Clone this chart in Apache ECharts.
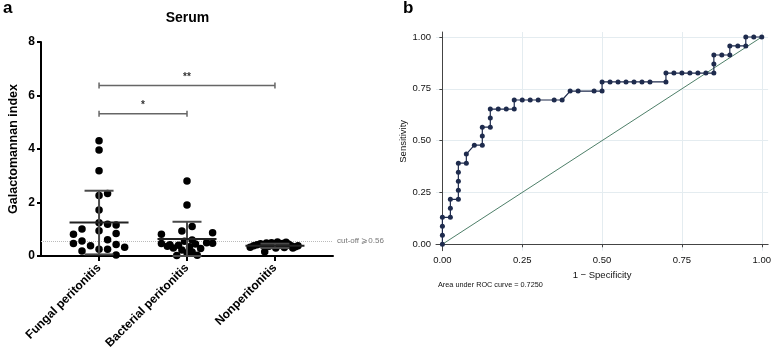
<!DOCTYPE html>
<html><head><meta charset="utf-8">
<script src="https://cdn.jsdelivr.net/npm/echarts@6/dist/echarts.min.js"></script>
<style>html,body{margin:0;padding:0;background:#fff}#c{width:774px;height:352px}</style>
</head><body><div id="c"></div>
<script>
// ---------- Panel a: serum galactomannan index ----------
const categories = ['Fungal peritonitis', 'Bacterial peritonitis', 'Nonperitonitis'];
const gmTicks = [0, 2, 4, 6, 8];
const fungalValues = [4.31, 3.96, 3.19, 2.26, 2.34, 1.72, 1.24, 1.19, 1.16, 1.01, 0.81, 0.94, 0.84, 0.61, 0.56, 0.47, 0.38, 0.43, 0.33, 0.25, 0.25, 0.19, 0.04];
const fungalJitter = [0, 0, 0, 0, 1, 0, 0, 1, 2, -2, -3, 0, 2, 1, -2, -3, -1, 2, 3, 0, 1, -2, 2];
const bacterialValues = [2.80, 1.91, 1.10, 0.93, 0.81, 0.87, 0.47, 0.36, 0.30, 0.40, 0.55, 0.35, 0.45, 0.28, 0.50, 0.48, 0.60, 0.22, 0.12, 0.02, 0.03, 0.15, 0.42];
const bacterialJitter = [0, 0, 0.6, -0.6, -3, 3, -3, -2.3, -1.6, -1.0, -0.3, 0.3, 1.0, 1.6, 2.3, 3.0, 0.6, -0.6, 0, -1.2, 1.2, 0.6, -2.0];
const nonperitonitisValues = [0.33, 0.38, 0.42, 0.46, 0.40, 0.49, 0.36, 0.50, 0.16, 0.44, 0.30, 0.52, 0.41, 0.47, 0.32, 0.51, 0.44, 0.38, 0.30, 0.35, 0.38];
const nonperitonitisJitter = [-2.9, -2.5, -2.1, -1.7, -1.3, -1.0, -0.7, -0.4, -1.2, -0.1, 0.1, 0.3, 0.6, 0.9, 1.1, 1.3, 1.6, 1.9, 2.1, 2.4, 2.7];
const groupMeans = [1.25, 0.64, 0.38];
const groupSdLow = [0.06, 0.0, 0.30];
const groupSdHigh = [2.44, 1.28, 0.46];
const cutoffValue = 0.56;
const cutoffLabel = 'cut-off \u2A7E0.56';
const bracketFrom = [1, 1];
const bracketTo = [3, 2];
const bracketLevel = [6.37, 5.32];
const bracketLabels = ['**', '*'];

// ---------- Panel b: ROC curve ----------
const rocFpr = [0, 0, 0, 0, 0.025, 0.025, 0.025, 0.05, 0.05, 0.05, 0.05, 0.05, 0.075, 0.075, 0.1, 0.125, 0.125, 0.125, 0.15, 0.15, 0.15, 0.175, 0.2, 0.225, 0.225, 0.25, 0.275, 0.3, 0.35, 0.375, 0.4, 0.425, 0.475, 0.5, 0.5, 0.525, 0.55, 0.575, 0.6, 0.625, 0.65, 0.7, 0.7, 0.725, 0.75, 0.775, 0.8, 0.825, 0.85, 0.85, 0.85, 0.875, 0.9, 0.9, 0.925, 0.95, 0.95, 0.975, 1];
const rocTpr = [0, 0.043, 0.087, 0.130, 0.130, 0.174, 0.217, 0.217, 0.261, 0.304, 0.348, 0.391, 0.391, 0.435, 0.478, 0.478, 0.522, 0.565, 0.565, 0.609, 0.652, 0.652, 0.652, 0.652, 0.696, 0.696, 0.696, 0.696, 0.696, 0.696, 0.739, 0.739, 0.739, 0.739, 0.783, 0.783, 0.783, 0.783, 0.783, 0.783, 0.783, 0.783, 0.826, 0.826, 0.826, 0.826, 0.826, 0.826, 0.826, 0.870, 0.913, 0.913, 0.913, 0.957, 0.957, 0.957, 1, 1, 1];
const rocTicks = [0, 0.25, 0.5, 0.75, 1];
const diagonal = [[0, 0], [1, 1]];
const aucText = 'Area under ROC curve = 0.7250';

// ---------- style constants ----------
const JITTER_STEP = 0.097;
const FONT = '"Liberation Sans", Arial, Helvetica, sans-serif';

function groupData(values, jitter, g) {
  return values.map((v, i) => [g + jitter[i] * JITTER_STEP, v]);
}

const chart = echarts.init(document.getElementById('c'), null, {renderer: 'canvas'});

const meanData = groupMeans.map((m, i) => [i + 1, m, groupSdLow[i], groupSdHigh[i]]);
const bracketData = bracketFrom.map((f, i) => [f, bracketTo[i], bracketLevel[i]]);
const rocData = rocFpr.map((x, i) => [x, rocTpr[i]]);
const dotStyle = {color: '#000', opacity: 1, borderWidth: 0};

const option = {
  backgroundColor: '#fff',
  animation: false,
  textStyle: {fontFamily: FONT},
  graphic: [
    {type: 'text', left: 3, top: 0, style: {text: 'a', font: 'bold 17px ' + FONT, fill: '#000'}},
    {type: 'text', left: 403, top: 0, style: {text: 'b', font: 'bold 17px ' + FONT, fill: '#000'}},
    {type: 'text', x: 187.5, y: 18, style: {text: 'Serum', font: 'bold 14px ' + FONT, fill: '#000', textAlign: 'center', textVerticalAlign: 'middle'}},
    {type: 'text', x: 438, y: 284.5, style: {text: aucText, font: '7.3px ' + FONT, fill: '#111', textAlign: 'left', textVerticalAlign: 'middle'}}
  ],
  grid: [
    {left: 41, top: 42, width: 292, height: 214},
    {left: 436, top: 32, width: 334, height: 218.7}
  ],
  xAxis: [
    {
      gridIndex: 0, type: 'value', min: 0.34, max: 3.66,
      axisLine: {show: true, lineStyle: {color: '#000', width: 2}},
      axisTick: {show: true, customValues: [1, 2, 3], length: 5, lineStyle: {color: '#000', width: 2}},
      axisLabel: {show: true, customValues: [1, 2, 3], rotate: 45, margin: 10,
        formatter: v => categories[Math.round(v) - 1],
        fontSize: 12, fontWeight: 'bold', color: '#000', fontFamily: FONT},
      splitLine: {show: false}
    },
    {
      gridIndex: 1, type: 'value', min: -0.02, max: 1.02,
      name: '1 \u2212 Specificity', nameLocation: 'middle', nameGap: 16.5,
      nameTextStyle: {fontSize: 9.5, color: '#111', fontFamily: FONT},
      axisLine: {show: true, lineStyle: {color: '#444', width: 1}},
      axisTick: {show: true, customValues: rocTicks, length: 3, lineStyle: {color: '#444'}},
      axisLabel: {customValues: rocTicks, formatter: v => v.toFixed(2), fontSize: 9.5, color: '#111', margin: 5, fontFamily: FONT},
      splitLine: {show: true, lineStyle: {color: '#e4ecf0', width: 1}}
    }
  ],
  yAxis: [
    {
      gridIndex: 0, type: 'value', min: 0, max: 8, interval: 2,
      name: 'Galactomannan index', nameLocation: 'middle', nameGap: 21,
      nameTextStyle: {fontSize: 12.5, fontWeight: 'bold', color: '#000', fontFamily: FONT},
      axisLine: {show: true, lineStyle: {color: '#000', width: 2}},
      axisTick: {show: true, length: 4, lineStyle: {color: '#000', width: 2}},
      axisLabel: {fontSize: 12, fontWeight: 'bold', color: '#000', margin: 6, fontFamily: FONT,
        customValues: gmTicks},
      splitLine: {show: false}
    },
    {
      gridIndex: 1, type: 'value', min: -0.031, max: 1.024,
      name: 'Sensitivity', nameLocation: 'middle', nameGap: 27,
      nameTextStyle: {fontSize: 9.5, color: '#111', fontFamily: FONT},
      axisLine: {show: true, lineStyle: {color: '#444', width: 1}},
      axisTick: {show: true, customValues: rocTicks, length: 3, lineStyle: {color: '#444'}},
      axisLabel: {customValues: rocTicks, formatter: v => v.toFixed(2), fontSize: 9.5, color: '#111', margin: 5, fontFamily: FONT},
      splitLine: {show: true, lineStyle: {color: '#e4ecf0', width: 1}}
    }
  ],
  series: [
    {
      type: 'scatter', xAxisIndex: 0, yAxisIndex: 0, z: 1, data: [],
      markLine: {
        silent: true, symbol: 'none', z: 1,
        lineStyle: {color: '#bbb', type: 'dotted', width: 1},
        label: {show: true, position: 'end', formatter: cutoffLabel, color: '#777', fontSize: 8, distance: 4, fontFamily: FONT},
        data: [{yAxis: cutoffValue}]
      }
    },
    {type: 'scatter', xAxisIndex: 0, yAxisIndex: 0, symbolSize: 7.5, z: 2, itemStyle: dotStyle,
      data: groupData(fungalValues, fungalJitter, 1)},
    {type: 'scatter', xAxisIndex: 0, yAxisIndex: 0, symbolSize: 7.5, z: 2, itemStyle: dotStyle,
      data: groupData(bacterialValues, bacterialJitter, 2)},
    {type: 'scatter', xAxisIndex: 0, yAxisIndex: 0, symbolSize: 7.5, z: 2, itemStyle: dotStyle,
      data: groupData(nonperitonitisValues, nonperitonitisJitter, 3)},
    {
      type: 'custom', xAxisIndex: 0, yAxisIndex: 0, z: 3, clip: false,
      data: meanData,
      renderItem: function (params, api) {
        const x = api.value(0);
        const pm = api.coord([x, api.value(1)]);
        const plo = api.coord([x, api.value(2)]);
        const phi = api.coord([x, api.value(3)]);
        const sdStyle = {stroke: '#4a4a4a', lineWidth: 2};
        return {type: 'group', children: [
          {type: 'line', shape: {x1: pm[0], y1: phi[1], x2: pm[0], y2: plo[1]}, style: sdStyle},
          {type: 'line', shape: {x1: pm[0] - 14.5, y1: phi[1], x2: pm[0] + 14.5, y2: phi[1]}, style: sdStyle},
          {type: 'line', shape: {x1: pm[0] - 14.5, y1: plo[1], x2: pm[0] + 14.5, y2: plo[1]}, style: sdStyle},
          {type: 'line', shape: {x1: pm[0] - 29.5, y1: pm[1], x2: pm[0] + 29.5, y2: pm[1]}, style: {stroke: '#222', lineWidth: 2}}
        ]};
      }
    },
    {
      type: 'custom', xAxisIndex: 0, yAxisIndex: 0, z: 3, clip: false,
      data: bracketData,
      renderItem: function (params, api) {
        const a = api.coord([api.value(0), api.value(2)]);
        const b = api.coord([api.value(1), api.value(2)]);
        const st = {stroke: '#666', lineWidth: 1.5};
        return {type: 'group', children: [
          {type: 'line', shape: {x1: a[0], y1: a[1], x2: b[0], y2: b[1]}, style: st},
          {type: 'line', shape: {x1: a[0], y1: a[1] - 3, x2: a[0], y2: a[1] + 3}, style: st},
          {type: 'line', shape: {x1: b[0], y1: b[1] - 3, x2: b[0], y2: b[1] + 3}, style: st},
          {type: 'text', style: {x: (a[0] + b[0]) / 2, y: a[1] - 3, text: bracketLabels[params.dataIndex],
            font: 'bold 10px ' + FONT, fill: '#333', textAlign: 'center', textVerticalAlign: 'bottom'}}
        ]};
      }
    },
    {
      type: 'line', xAxisIndex: 1, yAxisIndex: 1, data: diagonal, symbol: 'none', z: 2,
      lineStyle: {color: '#4e7f69', width: 1}
    },
    {
      type: 'line', xAxisIndex: 1, yAxisIndex: 1, data: rocData, z: 3,
      symbol: 'circle', symbolSize: 5, showAllSymbol: true,
      lineStyle: {color: '#1e2b4d', width: 1.2},
      itemStyle: {color: '#1e2b4d'}
    }
  ]
};
chart.setOption(option);
</script>
</body></html>
